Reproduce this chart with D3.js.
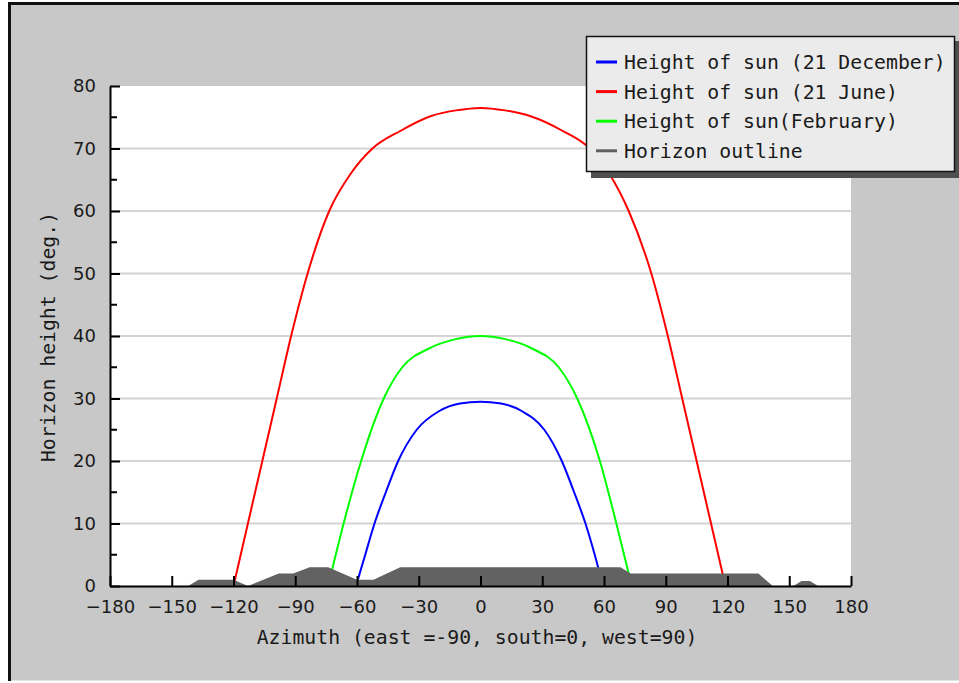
<!DOCTYPE html>
<html>
<head>
<meta charset="utf-8">
<script src="https://cdn.jsdelivr.net/npm/d3@7"></script>
<style>
  body { margin: 0; background: #fff; }
  svg { display: block; }
</style>
</head>
<body>
<div id="chart"></div>
<script>
// azimuth / height pairs
const decemberSun = [
  [-60.5, 0], [-56, 5], [-51.5, 10], [-46, 15], [-40, 20], [-31, 25], [-20, 28],
  [-10, 29.2], [0, 29.5], [10, 29.2], [20, 28], [31, 25], [39.5, 20], [45.5, 15],
  [51, 10], [55.5, 5], [59.5, 0]
];
const juneSun = [
  [-120, 0], [-113, 10], [-106, 20], [-99, 30], [-92, 40], [-84, 50], [-73.5, 60],
  [-63, 66], [-52.5, 70], [-39, 72.8], [-24, 75.2], [-12, 76.1], [0, 76.5],
  [12, 76.1], [24, 75.2], [40, 72.8], [53, 70], [62.5, 66], [72, 60], [83, 50],
  [91, 40], [98, 30], [105, 20], [112, 10], [119, 0]
];
const februarySun = [
  [-74, 0], [-66.5, 10], [-58, 20], [-47, 30], [-38, 35], [-25, 38], [-12, 39.5],
  [0, 40], [12, 39.5], [25, 38], [38, 35], [47, 30], [58, 20], [66, 10], [73.5, 0]
];
const horizon = [
  [-180, 0], [-142, 0], [-137, 1], [-120, 1], [-113, 0], [-98, 2], [-91, 2],
  [-83, 3], [-74, 3], [-60, 1], [-52, 1], [-39, 3], [68, 3], [73, 2], [135, 2],
  [142, 0], [152, 0], [156, 0.8], [160, 0.8], [164, 0], [180, 0]
];

const xTicks = [-180, -150, -120, -90, -60, -30, 0, 30, 60, 90, 120, 150, 180];
const yTicks = [0, 10, 20, 30, 40, 50, 60, 70, 80];
const yMinorTicks = [5, 15, 25, 35, 45, 55, 65, 75];

const legendNames = [
  "Height of sun (21 December)",
  "Height of sun (21 June)",
  "Height of sun(February)",
  "Horizon outline"
];
const legendColors = ["#0000ff", "#ff0000", "#00ff00", "#606060"];

const W = 959, H = 683;
const mono = "'DejaVu Sans Mono', monospace";
const sans = "'DejaVu Sans', sans-serif";

const svg = d3.select("#chart").append("svg")
  .attr("width", W)
  .attr("height", H);

// frame + grey margin
svg.append("rect").attr("x", 8).attr("y", 2).attr("width", W - 8).attr("height", 678)
  .attr("fill", "#c8c8c8");
svg.append("line").attr("x1", 8).attr("x2", W).attr("y1", 3.5).attr("y2", 3.5)
  .attr("stroke", "#111").attr("stroke-width", 3);
svg.append("line").attr("x1", 9.5).attr("x2", 9.5).attr("y1", 2).attr("y2", 681)
  .attr("stroke", "#111").attr("stroke-width", 3);
svg.append("line").attr("x1", 11).attr("x2", W).attr("y1", 680.5).attr("y2", 680.5)
  .attr("stroke", "#e4e4e4").attr("stroke-width", 1);

const x = d3.scaleLinear().domain([-180, 180]).range([110, 851]);
const y = d3.scaleLinear().domain([0, 80]).range([586, 86]);

// plot area
svg.append("rect")
  .attr("x", x(-180)).attr("y", y(80))
  .attr("width", x(180) - x(-180)).attr("height", y(0) - y(80))
  .attr("fill", "#fff");

// grid
svg.append("g").selectAll("line")
  .data(yTicks.filter(d => d > 0 && d < 80))
  .join("line")
  .attr("x1", x(-180)).attr("x2", x(180))
  .attr("y1", d => y(d)).attr("y2", d => y(d))
  .attr("stroke", "#d4d4d4").attr("stroke-width", 2);

// sun paths
const line = d3.line().curve(d3.curveMonotoneX).x(d => x(d[0])).y(d => y(d[1]));
[[decemberSun, legendColors[0]], [juneSun, legendColors[1]], [februarySun, legendColors[2]]]
  .forEach(([data, color]) => {
    svg.append("path")
      .datum(data)
      .attr("d", line)
      .attr("fill", "none")
      .attr("stroke", color)
      .attr("stroke-width", 2);
  });

// horizon outline, on top of the curves
svg.append("path")
  .datum(horizon)
  .attr("d", d3.area().x(d => x(d[0])).y0(y(0)).y1(d => y(d[1])))
  .attr("fill", "#626262");

// axes (ticks point inward)
const xAxis = svg.append("g")
  .attr("transform", `translate(0,${y(0)})`)
  .call(d3.axisBottom(x).tickValues(xTicks).tickSize(-10).tickPadding(20).tickSizeOuter(0));
const yAxis = svg.append("g")
  .attr("transform", `translate(${x(-180)},0)`)
  .call(d3.axisLeft(y).tickValues(yTicks).tickSize(-10).tickPadding(14).tickSizeOuter(0));
yAxis.selectAll(".minor")
  .data(yMinorTicks)
  .join("line")
  .attr("class", "minor")
  .attr("x1", 0).attr("x2", 7)
  .attr("y1", d => y(d)).attr("y2", d => y(d))
  .attr("stroke", "#000").attr("stroke-width", 2);

[xAxis, yAxis].forEach(g => {
  g.select(".domain").attr("stroke", "#000").attr("stroke-width", 2);
  g.selectAll(".tick line").attr("stroke", "#000").attr("stroke-width", 2);
  g.selectAll(".tick text")
    .attr("font-family", sans)
    .attr("font-size", 18)
    .attr("fill", "#1a1a1a");
});
xAxis.selectAll(".tick text").attr("dy", "0.35em").attr("y", 21);
yAxis.selectAll(".tick text").attr("x", -14);

// axis titles
svg.append("text")
  .attr("x", 477).attr("y", 637)
  .attr("dy", "0.35em")
  .attr("text-anchor", "middle")
  .attr("font-family", mono).attr("font-size", 19.8).attr("fill", "#1a1a1a")
  .text("Azimuth (east =-90, south=0, west=90)");
svg.append("text")
  .attr("transform", "translate(48,337) rotate(-90)")
  .attr("dy", "0.35em")
  .attr("text-anchor", "middle")
  .attr("font-family", mono).attr("font-size", 19.8).attr("fill", "#1a1a1a")
  .text("Horizon height (deg.)");

// legend with shadow
const lg = svg.append("g");
lg.append("rect").attr("x", 591).attr("y", 41).attr("width", 368).attr("height", 137)
  .attr("fill", "#505050");
lg.append("rect").attr("x", 586.5).attr("y", 36.5).attr("width", 368).attr("height", 135)
  .attr("fill", "#ebebeb").attr("stroke", "#111").attr("stroke-width", 1.5);
legendNames.forEach((name, i) => {
  const ly = 62 + i * 29.6;
  lg.append("line")
    .attr("x1", 596).attr("x2", 617)
    .attr("y1", ly).attr("y2", ly)
    .attr("stroke", legendColors[i]).attr("stroke-width", 3);
  lg.append("text")
    .attr("x", 624).attr("y", ly)
    .attr("dy", "0.35em")
    .attr("font-family", mono).attr("font-size", 19.8).attr("fill", "#1a1a1a")
    .text(name);
});
</script>
</body>
</html>
